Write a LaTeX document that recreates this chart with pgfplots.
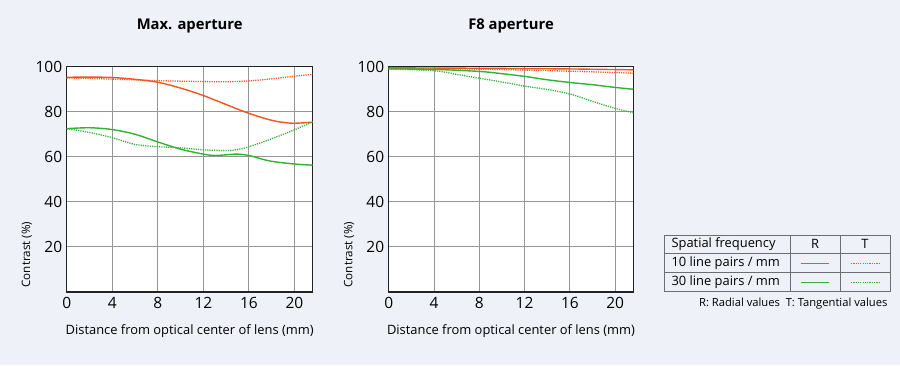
\documentclass[border=0pt]{standalone}
\usepackage{pgfplots}
\pgfplotsset{compat=1.18}
\usepackage{fontspec}
\setmainfont{Open Sans}
\definecolor{bg}{RGB}{238,242,248}
\definecolor{sonyorange}{RGB}{240,86,30}
\definecolor{sonygreen}{RGB}{52,178,52}
\definecolor{gridc}{RGB}{150,150,150}
\definecolor{axc}{RGB}{35,35,35}
\definecolor{tabc}{RGB}{110,110,110}
\tikzset{dotl/.style={dash pattern=on 1.2pt off 1.1pt, line width=1.3pt}}
\pgfplotsset{
  mtf/.style={
    scale only axis, width=246pt, height=225.3pt,
    anchor=south west,
    xmin=0, xmax=21.6, ymin=0, ymax=100,
    xtick={0,4,...,20}, ytick={20,40,...,100},
    major tick length=0pt,
    grid=major,
    major grid style={gridc, line width=0.9pt},
    axis line style={axc, line width=1.3pt},
    axis background/.style={fill=white},
    tick label style={font=\fontsize{15.5}{17}\selectfont, text=black},
    /pgf/number format/assume math mode=true,
    xticklabel style={yshift=-2pt},
    yticklabel style={xshift=-1pt},
    title style={at={(axis description cs:0.5,1)}, anchor=base, yshift=31pt, font=\fontsize{14.8}{17}\selectfont\bfseries},
    xlabel={Distance from optical center of lens (mm)},
    xlabel style={at={(axis description cs:0.5,0)}, anchor=base, yshift=-42pt, font=\fontsize{12.9}{15}\selectfont},
    ylabel={Contrast (\%)},
    ylabel style={at={(axis description cs:-0.162,0.005)}, anchor=west, font=\fontsize{11.6}{13}\selectfont},
    every axis plot/.append style={line width=1.4pt, smooth, tension=0.55, no markers},
  },
}
\begin{document}
\begin{tikzpicture}
\fill[bg] (0pt,0pt) rectangle (900pt,365pt);
% left
\begin{axis}[mtf, at={(66.7pt,73pt)}, title={Max. aperture}]
\addplot[sonyorange] coordinates {(0,95.3) (2,95.4) (4,95.2) (6,94.4) (8,93.1) (10,90.5) (12,87.2) (14,83.2) (16,79.3) (18,76.2) (19.5,75.0) (20.5,75.0) (21.6,75.4)};
\addplot[sonyorange, dotl] coordinates {(0,95.0) (4,94.5) (8,93.8) (12,93.4) (14,93.3) (16,93.7) (18,94.6) (20,95.8) (21.6,96.6)};
\addplot[sonygreen] coordinates {(0,72.5) (2,72.9) (4,72.1) (6,70.0) (8,66.6) (10,63.4) (12,61.2) (13,60.6) (14,60.9) (15,61.2) (16,60.6) (17,59.2) (18,58.0) (20,56.8) (21.6,56.3)};
\addplot[sonygreen, dotl] coordinates {(0,72.5) (2,70.8) (4,68.5) (6,65.5) (8,64.5) (10,64.0) (12,63.1) (14,62.8) (15,63.2) (16,64.5) (18,68.0) (20,72.0) (21.6,75.5)};
\end{axis}
% right
\begin{axis}[mtf, at={(388.7pt,73pt)}, width=244.6pt, title={F8 aperture}]
\addplot[sonyorange] coordinates {(0,99.5) (8,99.3) (16,99.0) (21.6,98.6)};
\addplot[sonyorange, dotl] coordinates {(0,99.2) (8,98.9) (12,98.5) (16,98.0) (20,97.4) (21.6,97.1)};
\addplot[sonygreen] coordinates {(0,99.0) (4,98.8) (8,97.9) (10,96.9) (12,95.7) (14,94.2) (16,93.0) (18,92.0) (20,90.8) (21.6,90.0)};
\addplot[sonygreen, dotl] coordinates {(0,99.0) (4,98.2) (6,96.6) (8,94.9) (10,93.2) (12,91.4) (14,89.9) (16,87.9) (18,84.6) (20,81.5) (21.6,79.6)};
\end{axis}
% legend table
\begin{scope}[x=1pt, y=1pt, font=\fontsize{12.9}{15}\selectfont]
\draw[tabc, line width=0.9pt] (664,130) rectangle (890,73.3);
\draw[tabc, line width=0.9pt] (664,111.7) -- (890,111.7);
\draw[tabc, line width=0.9pt] (664,92.3) -- (890,92.3);
\draw[tabc, line width=0.9pt] (790,130) -- (790,73.3);
\draw[tabc, line width=0.9pt] (840,130) -- (840,73.3);
\node[anchor=west] at (668,120.8) {Spatial frequency};
\node[anchor=west] at (668,101.9) {10 line pairs / mm};
\node[anchor=west] at (668,82.6) {30 line pairs / mm};
\node at (815,120.8) {R};
\node at (865,120.8) {T};
\node[anchor=east, font=\fontsize{11.2}{13}\selectfont] at (891,61) {R: Radial values\ \ T: Tangential values};
\end{scope}
% legend samples drawn through a hidden axis
\begin{axis}[at={(790pt,73.3pt)}, anchor=south west, scale only axis,
  width=100pt, height=56.7pt, xmin=0, xmax=100, ymin=0, ymax=56.7, hide axis, clip=false]
\addplot[sonyorange, line width=1.4pt, no markers] coordinates {(11,28.3) (39,28.3)};
\addplot[sonyorange, dotl, line width=1.1pt, no markers] coordinates {(61,28.3) (90,28.3)};
\addplot[sonygreen, line width=1.4pt, no markers] coordinates {(11,9.1) (39,9.1)};
\addplot[sonygreen, dotl, line width=1.1pt, no markers] coordinates {(61,9.1) (90,9.1)};
\end{axis}
\end{tikzpicture}
\end{document}
